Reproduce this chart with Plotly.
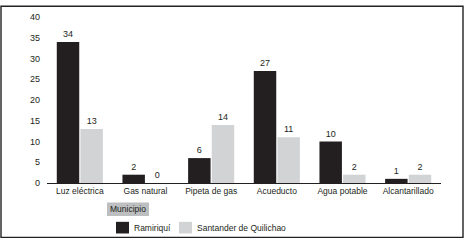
import plotly.graph_objects as go

categories = ["Luz eléctrica", "Gas natural", "Pipeta de gas", "Acueducto", "Agua potable", "Alcantarillado"]
series_names = ["Ramiriquí", "Santander de Quilichao"]
ramiriqui = [34, 2, 6, 27, 10, 1]
santander = [13, 0, 14, 11, 2, 2]
y_ticks = [0, 5, 10, 15, 20, 25, 30, 35, 40]
legend_title = "Municipio"

FONT = "Liberation Sans Narrow, Arial Narrow, Liberation Sans, sans-serif"
DARK = "#231f20"
GRAY = "#d1d3d4"
TXT = "#231f20"

# plot area in pixels
L, R, T, B = 47, 27, 12, 59
W, H = 468, 242
PW, PH = W - L - R, H - T - B


def px(x):
    return (x - L) / PW


def py(y):
    return (H - B - y) / PH


fig = go.Figure()
for name, vals, col in [(series_names[0], ramiriqui, DARK), (series_names[1], santander, GRAY)]:
    fig.add_trace(go.Bar(
        x=categories, y=vals, name=name, marker=dict(color=col, line=dict(width=0)),
        text=[str(v) for v in vals], textposition="outside",
        textfont=dict(family=FONT, size=9, color=TXT), cliponaxis=False,
        showlegend=False,
    ))

shapes = [
    # outer frame
    dict(type="rect", xref="paper", yref="paper", x0=px(1), x1=px(463), y0=py(239), y1=py(1),
         line=dict(color="#222222", width=1.4), fillcolor="rgba(0,0,0,0)", layer="above"),
    # legend title box
    dict(type="rect", xref="paper", yref="paper", x0=px(107), x1=px(149), y0=py(217), y1=py(203),
         line=dict(width=0), fillcolor="#bcbec0", layer="below"),
    # legend swatches
    dict(type="rect", xref="paper", yref="paper", x0=px(116), x1=px(129), y0=py(235), y1=py(223),
         line=dict(width=0), fillcolor=DARK, layer="above"),
    dict(type="rect", xref="paper", yref="paper", x0=px(179), x1=px(192), y0=py(235), y1=py(223),
         line=dict(width=0), fillcolor=GRAY, layer="above"),
]

annotations = [
    dict(text=legend_title, xref="paper", yref="paper", x=px(128), y=py(210), xanchor="center",
         yanchor="middle", showarrow=False, font=dict(family=FONT, size=8.5, color=TXT)),
    dict(text=series_names[0], xref="paper", yref="paper", x=px(132), y=py(229), xanchor="left",
         yanchor="middle", showarrow=False, font=dict(family=FONT, size=8.5, color=TXT)),
    dict(text=series_names[1], xref="paper", yref="paper", x=px(195), y=py(229), xanchor="left",
         yanchor="middle", showarrow=False, font=dict(family=FONT, size=8.5, color=TXT)),
]

fig.update_layout(
    width=W, height=H,
    margin=dict(l=L, r=R, t=T, b=B, pad=0),
    paper_bgcolor="white", plot_bgcolor="white",
    barmode="group", bargap=0.28, bargroupgap=0.05,
    font=dict(family=FONT, size=9, color=TXT),
    shapes=shapes, annotations=annotations,
    xaxis=dict(showline=True, linecolor="#231f20", linewidth=1, showgrid=False, ticks="",
               tickfont=dict(family=FONT, size=8.5, color=TXT), fixedrange=True),
    yaxis=dict(range=[0, 40], tickvals=y_ticks, showgrid=False, zeroline=False, showline=False,
               ticks="", ticklabelstandoff=6, tickfont=dict(family=FONT, size=9, color=TXT),
               fixedrange=True),
)

fig.write_html("out.html", config={"displayModeBar": False},
               post_script="document.body.style.margin='0';document.body.style.overflow='hidden';")
